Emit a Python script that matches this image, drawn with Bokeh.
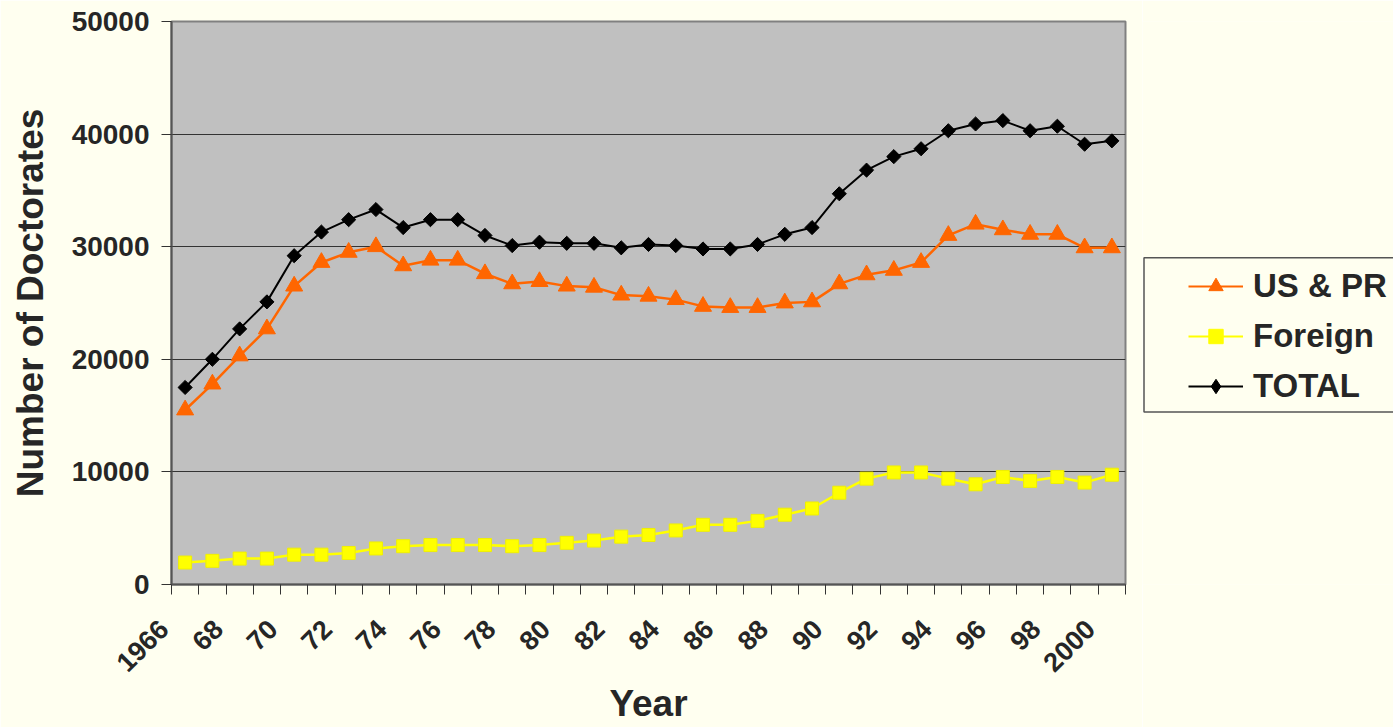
import math
from bokeh.plotting import figure
from bokeh.layouts import row
from bokeh.models import (ColumnDataSource, Range1d, FixedTicker, NumeralTickFormatter,
                          Legend, LegendItem)
from bokeh.embed import file_html
from bokeh.resources import INLINE

# ---- data ----
years = list(range(1966, 2001))
us_pr = [15500, 17800, 20300, 22700, 26500, 28600, 29500, 30000, 28300, 28800,
         28800, 27600, 26700, 26900, 26500, 26400, 25700, 25600, 25300, 24700,
         24600, 24600, 25000, 25100, 26700, 27500, 27900, 28600, 31000, 32000,
         31500, 31100, 31100, 29900, 29900]
foreign = [1950, 2100, 2300, 2300, 2650, 2650, 2800, 3200, 3400, 3500,
           3500, 3500, 3400, 3500, 3700, 3900, 4250, 4400, 4800, 5300,
           5300, 5650, 6200, 6750, 8150, 9400, 9950, 9950, 9400, 8900,
           9550, 9200, 9550, 9050, 9750]
total = [17500, 20000, 22700, 25100, 29200, 31300, 32400, 33300, 31700, 32400,
         32400, 31000, 30100, 30400, 30300, 30300, 29900, 30200, 30100, 29800,
         29800, 30200, 31100, 31700, 34700, 36800, 38000, 38700, 40300, 40900,
         41200, 40300, 40700, 39100, 39400]
x_tick_years = list(range(1966, 2001, 2))
x_tick_labels = ["1966", "68", "70", "72", "74", "76", "78", "80", "82", "84",
                 "86", "88", "90", "92", "94", "96", "98", "2000"]
y_ticks = [0, 10000, 20000, 30000, 40000, 50000]
series_names = ["US & PR", "Foreign", "TOTAL"]

FONT = "Liberation Sans"
TXT = "#262626"
ORANGE = "#FF6600"
YELLOW = "#FFFF00"
BG = "#FFFFF0"
PAD = "\u2007\u2007"  # pushes rotated labels down-left of their tick, as in the original

src = ColumnDataSource(dict(year=years, us_pr=us_pr, foreign=foreign, total=total))

p = figure(width=1142, height=727,
           x_range=Range1d(years[0] - 0.5, years[-1] + 0.5),
           y_range=Range1d(0, 50000),
           output_backend="svg", toolbar_location=None,
           min_border_left=171, min_border_right=17,
           min_border_top=21, min_border_bottom=141,
           background_fill_color="#C0C0C0", border_fill_color=BG,
           outline_line_color="#808080", outline_line_width=2)

# grid
p.xgrid.visible = False
p.ygrid.ticker = FixedTicker(ticks=y_ticks)
p.ygrid.grid_line_color = "#333333"
p.ygrid.grid_line_width = 1

# y axis
ya = p.yaxis[0]
ya.ticker = FixedTicker(ticks=y_ticks)
ya.formatter = NumeralTickFormatter(format="0")
ya.axis_label = "Number of Doctorates"
ya.axis_label_text_font = FONT
ya.axis_label_text_font_style = "bold"
ya.axis_label_text_font_size = "37px"
ya.axis_label_text_color = TXT
ya.axis_label_standoff = 18
ya.major_label_text_font = FONT
ya.major_label_text_font_style = "bold"
ya.major_label_text_font_size = "28px"
ya.major_label_text_color = TXT
ya.major_label_standoff = 12
ya.major_tick_out = 10
ya.major_tick_in = 0
ya.minor_tick_out = 0
ya.minor_tick_in = 0
ya.major_tick_line_color = "#333333"
ya.axis_line_color = "#555555"
ya.axis_line_width = 2

# x axis: tick marks at category boundaries, rotated labels every other year
xa = p.xaxis[0]
xa.ticker = FixedTicker(ticks=x_tick_years,
                        minor_ticks=[y - 0.5 for y in years] + [years[-1] + 0.5])
xa.major_label_overrides = {t: lab + PAD for t, lab in zip(x_tick_years, x_tick_labels)}
xa.major_label_orientation = math.pi / 4
xa.axis_label = "Year"
xa.axis_label_text_font = FONT
xa.axis_label_text_font_style = "bold"
xa.axis_label_text_font_size = "37px"
xa.axis_label_text_color = TXT
xa.axis_label_text_line_height = 0.9
xa.axis_label_standoff = -8
xa.major_label_text_font = FONT
xa.major_label_text_font_style = "bold"
xa.major_label_text_font_size = "27px"
xa.major_label_text_color = TXT
xa.major_label_standoff = 9
xa.major_tick_out = 0
xa.major_tick_in = 0
xa.minor_tick_out = 10
xa.minor_tick_in = 0
xa.minor_tick_line_color = "#333333"
xa.axis_line_color = "#555555"
xa.axis_line_width = 2

# series
p.line("year", "us_pr", source=src, line_color=ORANGE, line_width=2.5)
p.scatter("year", "us_pr", source=src, marker="triangle", size=17,
          fill_color=ORANGE, line_color=ORANGE)
p.line("year", "foreign", source=src, line_color=YELLOW, line_width=2.5)
p.scatter("year", "foreign", source=src, marker="square", size=13,
          fill_color=YELLOW, line_color="#F0F000")
p.line("year", "total", source=src, line_color="#000000", line_width=2)
p.scatter("year", "total", source=src, marker="square", size=10, angle=math.pi / 4,
          fill_color="#000000", line_color="#000000")

# ---- legend panel on the right (pixel-like coordinates: y grows downward) ----
p2 = figure(width=251, height=727, x_range=Range1d(0, 251), y_range=Range1d(586, 21),
            output_backend="svg", toolbar_location=None,
            x_axis_type=None, y_axis_type=None,
            min_border_left=0, min_border_right=0,
            min_border_top=21, min_border_bottom=141,
            background_fill_color=BG, border_fill_color=BG, outline_line_color=None)
p2.grid.visible = False
p2.quad(left=1.5, right=260, top=258, bottom=413, fill_alpha=0,
        line_color="#555555", line_width=1.5)
hidden = ColumnDataSource(dict(x=[-100, -90], y=[-100, -90]))
g1 = [p2.line("x", "y", source=hidden, line_color=ORANGE, line_width=2),
      p2.scatter("x", "y", source=hidden, marker="triangle", fill_color=ORANGE, line_color=ORANGE)]
g2 = [p2.line("x", "y", source=hidden, line_color=YELLOW, line_width=2),
      p2.scatter("x", "y", source=hidden, marker="square", fill_color=YELLOW, line_color=YELLOW)]
g3 = [p2.line("x", "y", source=hidden, line_color="#000000", line_width=2),
      p2.scatter("x", "y", source=hidden, marker="diamond", fill_color="#000000", line_color="#000000")]

legend = Legend(items=[LegendItem(label=series_names[0], renderers=g1),
                       LegendItem(label=series_names[1], renderers=g2),
                       LegendItem(label=series_names[2], renderers=g3)],
                location=(46, 179), padding=0, spacing=12, margin=0,
                glyph_width=55, glyph_height=36, label_height=36, label_standoff=10,
                label_text_font=FONT, label_text_font_style="bold",
                label_text_font_size="33px", label_text_color=TXT,
                background_fill_alpha=0, border_line_alpha=0)
p2.add_layout(legend)

layout = row(p, p2)
open("out.html", "w").write(file_html(layout, INLINE))
